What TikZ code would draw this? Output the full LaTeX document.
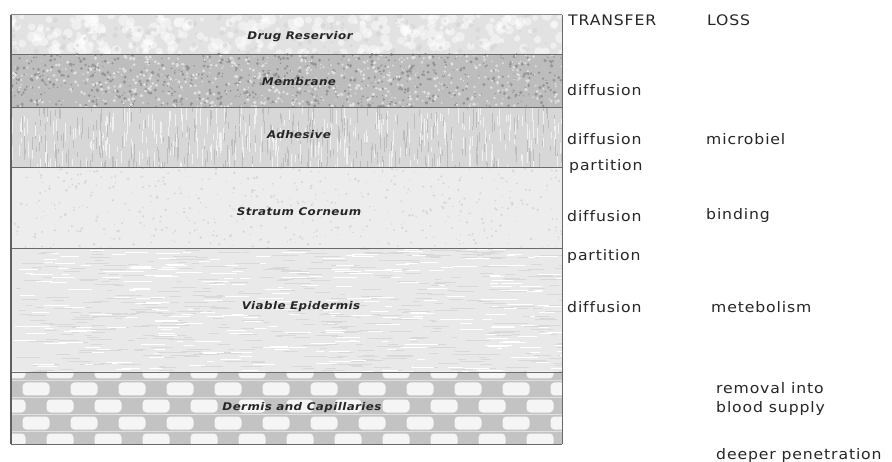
\documentclass[tikz,border=0pt]{standalone}
\usepackage{fontspec}
\newfontfamily\sidefont[FakeStretch=1.08,LetterSpace=6,Ligatures=NoCommon]{DejaVu Sans}
\newfontfamily\layerfont[FakeStretch=1.12,LetterSpace=4,Ligatures=NoCommon]{DejaVu Sans}
\definecolor{resfill}{HTML}{E2E2E2}
\definecolor{memfill}{HTML}{BDBDBD}
\definecolor{adhfill}{HTML}{D7D7D7}
\definecolor{scfill}{HTML}{EDEDED}
\definecolor{vefill}{HTML}{E9E9E9}
\definecolor{dermgrey}{HTML}{C3C3C3}
\definecolor{dermwhite}{HTML}{F5F5F5}
\definecolor{edge}{HTML}{6A6A6A}
\definecolor{ink}{HTML}{262626}
\tikzset{
  layer/.style={draw=none, inner sep=0pt, minimum width=551pt},
  layerlabel/.style={inner sep=0pt, text=ink, font=\layerfont\bfseries\itshape\fontsize{10.6}{12}\selectfont},
  sidelabel/.style={inner sep=0pt, anchor=west, text=ink, align=left, font=\sidefont\fontsize{14.5}{18}\selectfont},
  boundary/.style={draw=edge, line width=1.2pt}
}
\begin{document}
\begin{tikzpicture}[x=1pt,y=-1pt]
\useasboundingbox (0,0) rectangle (892,462);
\fill[white] (0,0) rectangle (892,462);
\pgfmathsetseed{7}
% layers
\node[layer, fill=resfill, minimum height=39pt] (res) at (286.5,34.5) {};
\node[layer, fill=memfill, minimum height=53pt] (mem) at (286.5,80.5) {};
\node[layer, fill=adhfill, minimum height=60pt] (adh) at (286.5,137) {};
\node[layer, fill=scfill, minimum height=81pt] (sc) at (286.5,207.5) {};
\node[layer, fill=vefill, minimum height=124pt] (ve) at (286.5,310) {};
\node[layer, fill=dermgrey, minimum height=72pt] (derm) at (286.5,408) {};
% textures
\begin{scope}
\clip (res.north west) rectangle (res.south east);
\foreach \i in {1,...,260}{
  \pgfmathsetmacro{\xx}{11+551*rnd}\pgfmathsetmacro{\yy}{15+39*rnd}\pgfmathsetmacro{\rr}{2+4*rnd}
  \fill[white, opacity=0.45] (\xx,\yy) circle[radius=\rr];}
\foreach \i in {1,...,150}{
  \pgfmathsetmacro{\xx}{11+551*rnd}\pgfmathsetmacro{\yy}{15+39*rnd}\pgfmathsetmacro{\rr}{1+2*rnd}
  \fill[black!18, opacity=0.5] (\xx,\yy) circle[radius=\rr];}
\end{scope}
\begin{scope}
\clip (mem.north west) rectangle (mem.south east);
\foreach \i in {1,...,700}{
  \pgfmathsetmacro{\xx}{11+551*rnd}\pgfmathsetmacro{\yy}{54+53*rnd}\pgfmathsetmacro{\rr}{0.6+1.2*rnd}
  \fill[black!42] (\xx,\yy) circle[radius=\rr];}
\foreach \i in {1,...,600}{
  \pgfmathsetmacro{\xx}{11+551*rnd}\pgfmathsetmacro{\yy}{54+53*rnd}\pgfmathsetmacro{\rr}{0.6+1.3*rnd}
  \fill[black!12] (\xx,\yy) circle[radius=\rr];}
\end{scope}
\begin{scope}
\clip (adh.north west) rectangle (adh.south east);
\foreach \i in {1,...,350}{
  \pgfmathsetmacro{\xx}{11+551*rnd}\pgfmathsetmacro{\yy}{105+60*rnd}\pgfmathsetmacro{\ll}{4+14*rnd}
  \draw[black!26, line width=0.5pt] (\xx,\yy) -- (\xx,\yy+\ll);}
\foreach \i in {1,...,300}{
  \pgfmathsetmacro{\xx}{11+551*rnd}\pgfmathsetmacro{\yy}{105+60*rnd}\pgfmathsetmacro{\ll}{4+14*rnd}
  \draw[black!6, line width=0.8pt] (\xx,\yy) -- (\xx,\yy+\ll);}
\end{scope}
\begin{scope}
\clip (sc.north west) rectangle (sc.south east);
\foreach \i in {1,...,500}{
  \pgfmathsetmacro{\xx}{11+551*rnd}\pgfmathsetmacro{\yy}{167+81*rnd}\pgfmathsetmacro{\rr}{0.5+0.9*rnd}
  \fill[black!16] (\xx,\yy) circle[radius=\rr];}
\end{scope}
\begin{scope}
\clip (ve.north west) rectangle (ve.south east);
\foreach \i in {1,...,500}{
  \pgfmathsetmacro{\xx}{11+551*rnd}\pgfmathsetmacro{\yy}{248+124*rnd}\pgfmathsetmacro{\ll}{5+22*rnd}
  \draw[black!15, line width=0.6pt] (\xx,\yy) -- (\xx+\ll,\yy);}
\foreach \i in {1,...,300}{
  \pgfmathsetmacro{\xx}{11+551*rnd}\pgfmathsetmacro{\yy}{248+124*rnd}\pgfmathsetmacro{\ll}{5+22*rnd}
  \draw[white, line width=0.8pt] (\xx,\yy) -- (\xx+\ll,\yy);}
\end{scope}
\begin{scope}
\clip (derm.north west) rectangle (derm.south east);
\foreach \r/\off in {372/60, 389/36, 406/60, 423/36, 440/60}{
  \foreach \n in {-1,...,11}{
    \fill[dermwhite, rounded corners=4pt] (\off+48*\n-13.5,\r-6.5) rectangle (\off+48*\n+13.5,\r+6.5);}
  \draw[black!12, line width=0.8pt] (11,\r+8.5) -- (562,\r+8.5);}
\end{scope}
% boundaries
\draw[boundary] (res.south west) -- (res.south east);
\draw[boundary] (mem.south west) -- (mem.south east);
\draw[boundary] (adh.south west) -- (adh.south east);
\draw[boundary] (sc.south west) -- (sc.south east);
\draw[boundary] (ve.south west) -- (ve.south east);
\draw[draw=edge!80, line width=1pt] (res.north west) -- (res.north east);
\draw[draw=edge, line width=1.2pt] (derm.south west) -- (derm.south east);
\draw[draw=edge!90!black, line width=1.6pt] (res.north west) -- (derm.south west);
\draw[draw=edge, line width=1pt] (res.north east) -- (derm.south east);
% layer labels
\node[layerlabel] (lres) at (300,37) {Drug Reservior};
\node[layerlabel] (lmem) at (299,82) {Membrane};
\node[layerlabel] (ladh) at (299,135) {Adhesive};
\node[layerlabel] (lsc) at (299,212) {Stratum Corneum};
\node[layerlabel] (lve) at (301,307) {Viable Epidermis};
\node[layerlabel] (lderm) at (302,408) {Dermis and Capillaries};
% side labels
\node[sidelabel] (transfer) at (568,20) {TRANSFER};
\node[sidelabel] (loss) at (707,20) {LOSS};
\node[sidelabel] (t1) at (567,90) {diffusion};
\node[sidelabel] (t2) at (567,139) {diffusion};
\node[sidelabel] (l2) at (706,139) {microbiel};
\node[sidelabel] (p1) at (569,167) {partition};
\node[sidelabel] (t3) at (567,216) {diffusion};
\node[sidelabel] (l3) at (706,216) {binding};
\node[sidelabel] (p2) at (567,257) {partition};
\node[sidelabel] (t4) at (567,307) {diffusion};
\node[sidelabel] (l4) at (711,307) {metebolism};
\node[sidelabel] (l5) at (716,399) {removal into\\blood supply};
\node[sidelabel] (l6) at (716,455) {deeper penetration};
\end{tikzpicture}
\end{document}
